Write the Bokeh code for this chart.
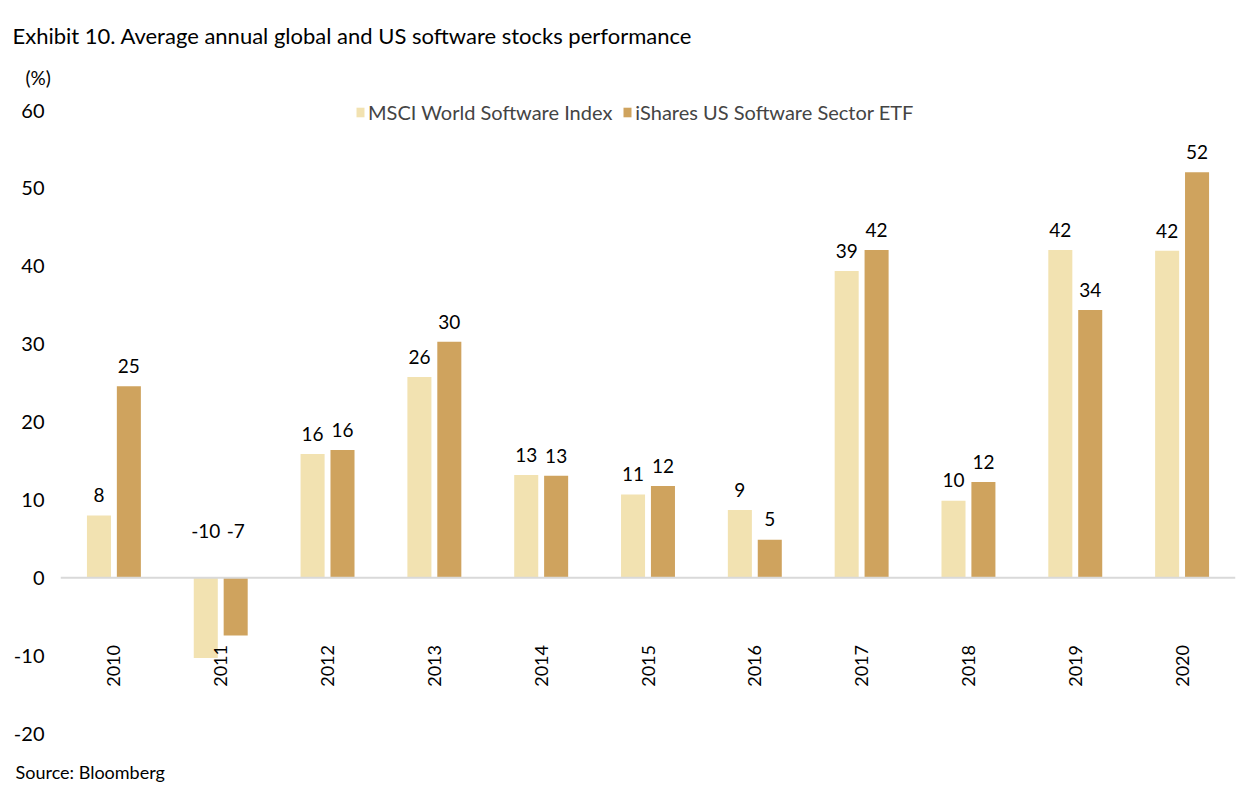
from bokeh.plotting import figure
from bokeh.models import ColumnDataSource, FactorRange, Span, Title, FixedTicker, Legend, LegendItem
from bokeh.transform import dodge
from bokeh.core.properties import value
from bokeh.embed import file_html
from bokeh.resources import INLINE
import math

years = ["2010", "2011", "2012", "2013", "2014", "2015", "2016", "2017", "2018", "2019", "2020"]
msci = [8.0, -10.3, 15.9, 25.8, 13.2, 10.7, 8.7, 39.4, 9.9, 42.1, 42.0]
etf = [24.6, -7.4, 16.4, 30.3, 13.1, 11.8, 4.9, 42.1, 12.3, 34.4, 52.1]
y_ticks = [-20, -10, 0, 10, 20, 30, 40, 50, 60]
series_names = ["MSCI World Software Index", "iShares US Software Sector ETF"]

FONT = "Lato"
C_LIGHT = "#F2E2B1"
C_DARK = "#CFA35E"

def lab_y(v):
    return v + 2.6 if v >= 0 else 6.0

src = ColumnDataSource(dict(
    years=years,
    msci=msci,
    etf=etf,
    msci_lab=[str(round(v)) for v in msci],
    etf_lab=[str(round(v)) for v in etf],
    msci_ly=[lab_y(v) for v in msci],
    etf_ly=[lab_y(v) for v in etf],
    year_y=[-14.0] * len(years),
))

p = figure(width=1250, height=784, x_range=FactorRange(*years, range_padding=0),
           y_range=(-20, 61.3), output_backend="svg", toolbar_location=None,
           min_border_left=60, min_border_right=15, min_border_top=100, min_border_bottom=51)
p.outline_line_color = None
p.grid.visible = False
p.xaxis.visible = False

p.yaxis.ticker = FixedTicker(ticks=y_ticks)
p.yaxis.major_label_overrides = {t: str(t) for t in y_ticks}
p.yaxis.axis_line_color = None
p.yaxis.major_tick_line_color = None
p.yaxis.minor_tick_line_color = None
p.yaxis.major_label_text_font = FONT
p.yaxis.major_label_text_font_size = "20px"
p.yaxis.major_label_text_color = "#000000"
p.yaxis.major_label_standoff = 10

p.add_layout(Span(location=0, dimension="width", line_color="#D9D9D9", line_width=2))

r1 = p.vbar(x=dodge("years", -0.14, range=p.x_range), top="msci", bottom=0, width=0.225,
            source=src, fill_color=C_LIGHT, line_color=None)
r2 = p.vbar(x=dodge("years", 0.14, range=p.x_range), top="etf", bottom=0, width=0.225,
            source=src, fill_color=C_DARK, line_color=None)

for col, ly, dx in (("msci_lab", "msci_ly", -0.14), ("etf_lab", "etf_ly", 0.14)):
    p.text(x=dodge("years", dx, range=p.x_range), y=ly, text=col, source=src,
           text_font=value(FONT), text_font_size="19px", text_color="#000000",
           text_align="center", text_baseline="middle")

p.text(x="years", y="year_y", text="years", source=src, angle=math.pi / 2,
       text_font=value(FONT), text_font_size="18px", text_color="#000000",
       text_align="left", text_baseline="middle")

legend = Legend(items=[LegendItem(label=series_names[0], renderers=[r1]),
                       LegendItem(label=series_names[1], renderers=[r2])],
                orientation="horizontal", location=(295, 609),
                background_fill_alpha=0, border_line_color=None,
                label_text_font=FONT, label_text_font_size="20px",
                glyph_width=10, glyph_height=12, padding=0, margin=0, spacing=10,
                label_standoff=3)
p.add_layout(legend, "center")

p.add_layout(Title(text="(%)", align="left", offset=-35, text_font=FONT, text_font_size="19px",
                   text_font_style="normal", text_color="#000000", standoff=23), "above")
p.add_layout(Title(text="Exhibit 10. Average annual global and US software stocks performance",
                   align="left", offset=-48, text_font=FONT, text_font_size="22px",
                   text_font_style="normal", text_color="#000000", standoff=8), "above")
# spacer between plot area and the source note
p.add_layout(Title(text=" ", text_font_size="10px", standoff=10), "below")
p.add_layout(Title(text="Source: Bloomberg", align="left", offset=-45, text_font=FONT,
                   text_font_size="18px", text_font_style="normal", text_color="#000000",
                   standoff=4), "below")

open("out.html", "w").write(file_html(p, INLINE))
